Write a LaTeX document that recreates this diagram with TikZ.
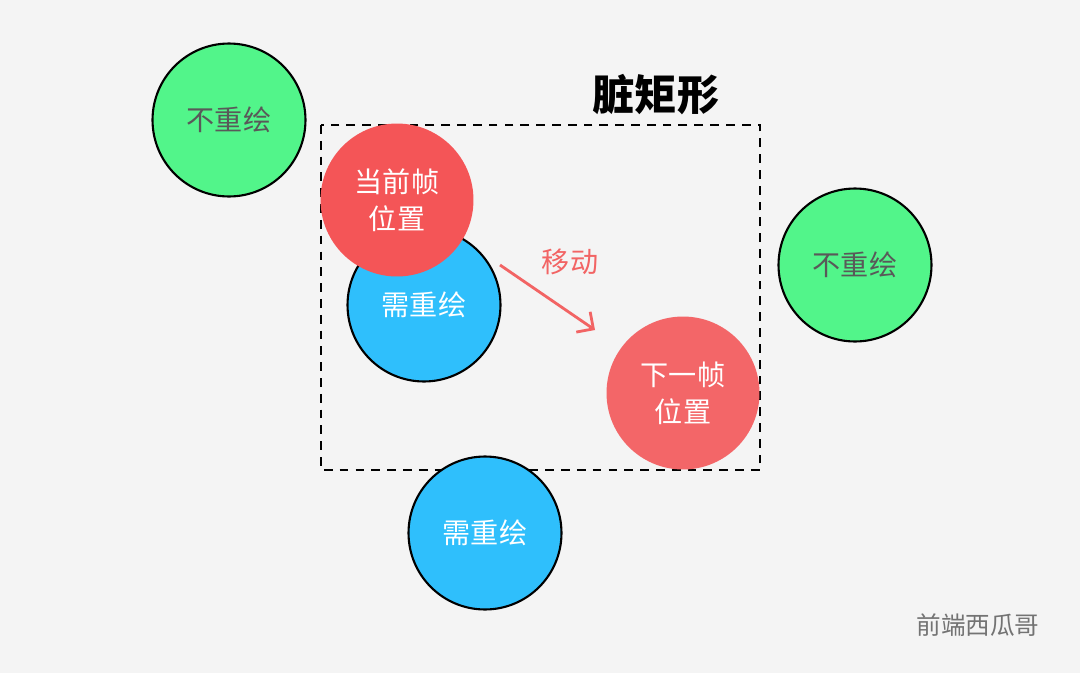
\documentclass[tikz,border=0pt]{standalone}
\usepackage{fontspec}
\setmainfont{Noto Sans CJK SC}
\usetikzlibrary{arrows.meta}
\definecolor{bgcol}{HTML}{F4F4F4}
\definecolor{keep}{HTML}{52F58A}
\definecolor{redraw}{HTML}{2FBFFC}
\definecolor{curpos}{HTML}{F45557}
\definecolor{nextpos}{HTML}{F36668}
\definecolor{movecol}{HTML}{F26464}
\tikzset{
  ball/.style={circle, draw=black, line width=1.2pt, minimum size=3.06cm, inner sep=0pt, align=center, font=\fontsize{16}{21}\selectfont},
  keepball/.style={ball, fill=keep, text=black!65},
  redrawball/.style={ball, fill=redraw, text=white},
  posball/.style={ball, draw=none, text=white}
}
\begin{document}
\begin{tikzpicture}[x=0.02cm, y=-0.02cm]
\fill[bgcol] (0,0) rectangle (1080,673);
\useasboundingbox (0,0) rectangle (1080,673);
\node[keepball] (keep1) at (229,120) {不重绘};
\node[keepball] (keep2) at (855,265) {不重绘};
\draw[dashed, line width=1.2pt, dash pattern=on 5pt off 4pt] (321,125) rectangle (760,470);
\node[font=\fontsize{24}{28}\selectfont\bfseries] (title) at (656,95) {脏矩形};
\node[redrawball] (redraw1) at (424,305) {需重绘};
\node[posball, fill=curpos] (cur) at (397,200) {当前帧\\位置};
\node[posball, fill=nextpos] (next) at (683,393) {下一帧\\位置};
\node[redrawball] (redraw2) at (485,533) {需重绘};
\coordinate (mstart) at (500,265);
\coordinate (mend) at (595,330);
\draw[movecol, line width=1.6pt, -{Straight Barb[length=7pt]}] (mstart) -- (mend);
\node[text=movecol, font=\fontsize{16}{20}\selectfont] (movelbl) at (570,262) {移动};
\node[text=black!55, font=\fontsize{14}{18}\selectfont] (mark) at (978,625) {前端西瓜哥};
\end{tikzpicture}
\end{document}
